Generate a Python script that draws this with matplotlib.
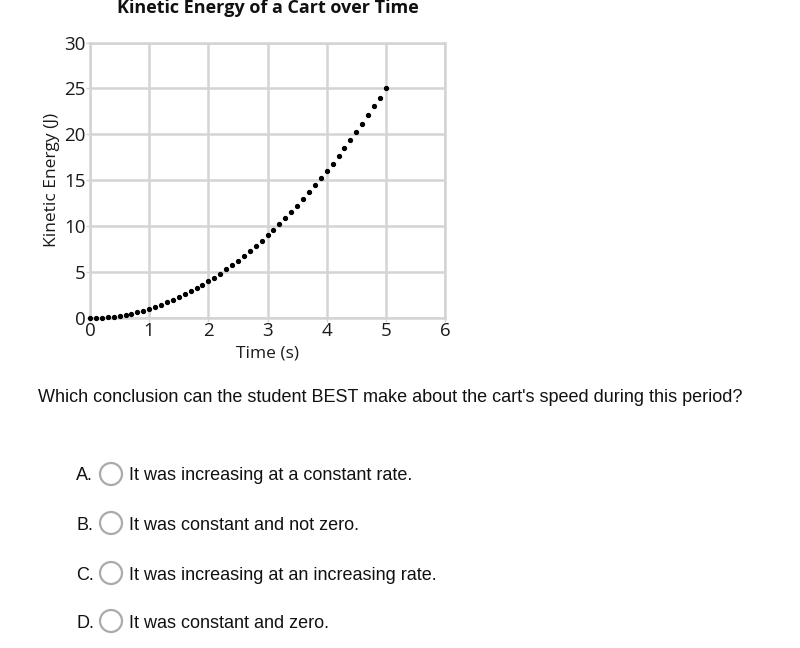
import matplotlib
matplotlib.use('Agg')
from matplotlib import pyplot as plt
from matplotlib.patches import Circle

# data
time_s = [0.0, 0.1, 0.2, 0.3, 0.4, 0.5, 0.6, 0.7, 0.8, 0.9,
          1.0, 1.1, 1.2, 1.3, 1.4, 1.5, 1.6, 1.7, 1.8, 1.9,
          2.0, 2.1, 2.2, 2.3, 2.4, 2.5, 2.6, 2.7, 2.8, 2.9,
          3.0, 3.1, 3.2, 3.3, 3.4, 3.5, 3.6, 3.7, 3.8, 3.9,
          4.0, 4.1, 4.2, 4.3, 4.4, 4.5, 4.6, 4.7, 4.8, 4.9, 5.0]
kinetic_j = [0.0, 0.01, 0.04, 0.09, 0.16, 0.25, 0.36, 0.49, 0.64, 0.81,
             1.0, 1.21, 1.44, 1.69, 1.96, 2.25, 2.56, 2.89, 3.24, 3.61,
             4.0, 4.41, 4.84, 5.29, 5.76, 6.25, 6.76, 7.29, 7.84, 8.41,
             9.0, 9.61, 10.24, 10.89, 11.56, 12.25, 12.96, 13.69, 14.44, 15.21,
             16.0, 16.81, 17.64, 18.49, 19.36, 20.25, 21.16, 22.09, 23.04, 24.01, 25.0]
x_ticks = [0, 1, 2, 3, 4, 5, 6]
y_ticks = [0, 5, 10, 15, 20, 25, 30]

question = "Which conclusion can the student BEST make about the cart's speed during this period?"
letters = ['A.', 'B.', 'C.', 'D.']
answers = ['It was increasing at a constant rate.',
           'It was constant and not zero.',
           'It was increasing at an increasing rate.',
           'It was constant and zero.']

W, H = 800, 648
fig = plt.figure(figsize=(W / 100, H / 100), dpi=100)
fig.patch.set_facecolor('white')

ax = fig.add_axes([90 / W, 1 - 318 / H, 355 / W, 275.5 / H])
grid_col = '#d4d4d4'
ax.set_xlim(0, 6)
ax.set_ylim(0, 30)
ax.set_xticks(x_ticks)
ax.set_yticks(y_ticks)
ax.grid(True, color=grid_col, linewidth=1.8)
for s in ax.spines.values():
    s.set_color(grid_col)
    s.set_linewidth(1.8)
ax.tick_params(colors=grid_col, length=3, width=1, labelcolor='#1a1a1a',
               labelsize=13.5, pad=0)
for lab in ax.get_xticklabels() + ax.get_yticklabels():
    lab.set_fontfamily('Open Sans')
ax.plot(time_s, kinetic_j, 'o', color='black', markersize=2.8, clip_on=False, zorder=3)

ax.set_title('Kinetic Energy of a Cart over Time', fontfamily='Open Sans',
             fontweight='bold', fontsize=13, pad=21, color='#111111')
ax.set_xlabel('Time (s)', fontfamily='Open Sans', fontsize=12.5, labelpad=4, color='#1a1a1a')
ax.set_ylabel('Kinetic Energy (J)', fontfamily='Open Sans', fontsize=12.5, labelpad=3, color='#1a1a1a')

fig.text(38 / W, 1 - 396 / H, question, fontfamily='Liberation Sans', fontsize=13,
         va='center_baseline', ha='left', color='#111111')

# radio circles drawn in pixel space so they stay round
circ_ax = fig.add_axes([0, 0, 1, 1], facecolor='none')
circ_ax.set_xlim(0, W)
circ_ax.set_ylim(H, 0)
circ_ax.axis('off')

rows = [474, 523, 573, 621]
for y, let, ans in zip(rows, letters, answers):
    circ_ax.text(76, y, let, fontfamily='Liberation Sans', fontsize=13,
                 va='center_baseline', ha='left', color='#111111')
    circ_ax.add_patch(Circle((111, y), 11, fill=False, edgecolor='#aaaaaa', linewidth=1.6))
    circ_ax.text(129, y, ans, fontfamily='Liberation Sans', fontsize=13,
                 va='center_baseline', ha='left', color='#111111')

fig.savefig('out.png', dpi=100)
